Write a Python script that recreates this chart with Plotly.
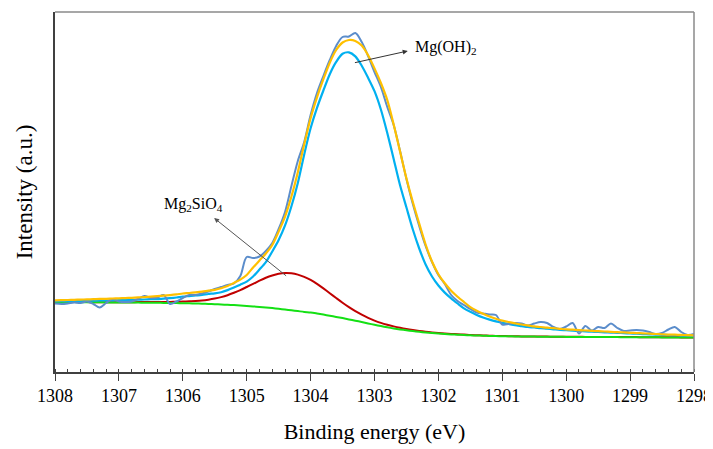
import plotly.graph_objects as go

energy = [1308.0, 1307.9, 1307.8, 1307.7, 1307.6, 1307.5, 1307.4, 1307.3, 1307.2, 1307.1,
          1307.0, 1306.9, 1306.8, 1306.7, 1306.6, 1306.5, 1306.4, 1306.3, 1306.2, 1306.1,
          1306.0, 1305.9, 1305.8, 1305.7, 1305.6, 1305.5, 1305.4, 1305.3, 1305.2, 1305.1,
          1305.0, 1304.9, 1304.8, 1304.7, 1304.6, 1304.5, 1304.4, 1304.3, 1304.2, 1304.1,
          1304.0, 1303.9, 1303.8, 1303.7, 1303.6, 1303.5, 1303.4, 1303.3, 1303.2, 1303.1,
          1303.0, 1302.9, 1302.8, 1302.7, 1302.6, 1302.5, 1302.4, 1302.3, 1302.2, 1302.1,
          1302.0, 1301.9, 1301.8, 1301.7, 1301.6, 1301.5, 1301.4, 1301.3, 1301.2, 1301.1,
          1301.0, 1300.9, 1300.8, 1300.7, 1300.6, 1300.5, 1300.4, 1300.3, 1300.2, 1300.1,
          1300.0, 1299.9, 1299.8, 1299.7, 1299.6, 1299.5, 1299.4, 1299.3, 1299.2, 1299.1,
          1299.0, 1298.9, 1298.8, 1298.7, 1298.6, 1298.5, 1298.4, 1298.3, 1298.2, 1298.1,
          1298.0]

raw = [68.5, 68.0, 68.5, 69.5, 69.0, 70.5, 68.0, 64.5, 69.0, 73.0,
       70.5, 70.0, 70.5, 73.0, 76.0, 74.0, 74.5, 77.0, 68.0, 70.5,
       74.0, 77.0, 77.0, 78.5, 80.5, 83.0, 85.0, 87.0, 88.5, 96.0,
       115.0, 114.0, 115.5, 121.0, 129.0, 143.0, 160.0, 186.0, 211.0, 230.0,
       257.0, 279.0, 296.0, 312.0, 326.0, 335.0, 335.5, 339.0, 330.0, 316.0,
       300.0, 285.0, 265.0, 247.0, 221.0, 193.0, 168.0, 146.0, 126.0, 110.0,
       97.0, 88.0, 77.0, 71.0, 67.0, 63.0, 59.5, 58.5, 57.5, 57.0,
       47.5, 48.0, 49.0, 48.5, 46.5, 48.5, 50.0, 49.0, 45.0, 43.0,
       45.5, 49.0, 38.5, 46.0, 41.5, 45.0, 44.0, 48.5, 44.0, 41.0,
       41.5, 42.0, 41.5, 40.0, 38.0, 39.0, 42.5, 45.0, 40.0, 37.0,
       38.0]

envelope = [71.7, 71.9, 72.0, 72.2, 72.4, 72.6, 72.8, 73.1, 73.2, 73.5,
            73.7, 73.9, 74.2, 74.6, 74.9, 75.3, 75.8, 76.3, 76.9, 77.6,
            78.5, 79.0, 79.6, 80.3, 81.3, 82.2, 83.7, 85.9, 89.1, 92.4,
            97.0, 104.5, 111.5, 118.5, 127.0, 140.4, 155.4, 175.5, 199.8, 227.8,
            253.8, 274.6, 292.8, 309.3, 322.0, 329.5, 332.0, 331.0, 326.4, 316.7,
            303.6, 289.0, 272.0, 247.6, 220.4, 193.6, 170.0, 148.4, 127.5, 110.5,
            97.8, 88.7, 81.3, 75.3, 70.0, 64.9, 61.3, 58.2, 55.5, 53.3,
            51.4, 50.0, 48.7, 47.5, 46.6, 45.6, 45.0, 44.3, 43.8, 43.2,
            42.6, 42.3, 41.9, 41.5, 41.1, 40.8, 40.5, 40.1, 39.8, 39.6,
            39.2, 38.9, 38.7, 38.3, 38.0, 37.7, 37.4, 37.3, 37.1, 36.8,
            36.7]

mg_oh2 = [70.8, 70.9, 70.9, 71.0, 71.1, 71.2, 71.3, 71.5, 71.5, 71.7,
          71.8, 71.9, 72.1, 72.4, 72.5, 72.8, 72.9, 73.4, 73.8, 74.5,
          75.5, 75.9, 76.5, 77.1, 78.0, 78.7, 79.8, 81.9, 84.5, 87.3,
          90.4, 95.5, 102.5, 109.9, 120.5, 132.0, 146.6, 165.8, 189.1, 217.6,
          243.7, 264.1, 281.5, 297.8, 310.1, 318.2, 319.6, 315.6, 306.3, 294.2,
          280.8, 262.5, 239.0, 213.1, 186.8, 164.5, 142.5, 123.5, 107.5, 95.5,
          86.5, 79.4, 73.6, 68.5, 63.7, 60.2, 57.1, 54.5, 52.4, 50.6,
          49.2, 48.0, 46.8, 45.9, 45.0, 44.5, 43.8, 43.3, 42.7, 42.1,
          41.8, 41.4, 41.0, 40.6, 40.3, 40.1, 39.7, 39.4, 39.2, 38.8,
          38.5, 38.3, 37.9, 37.6, 37.4, 37.1, 37.0, 36.9, 36.6, 36.5,
          36.4]

mg2sio4 = [70.1, 70.1, 70.0, 70.0, 69.9, 69.9, 69.8, 69.8, 69.7, 69.7,
           69.7, 69.7, 69.8, 69.9, 69.9, 70.0, 70.0, 70.0, 70.1, 70.2,
           70.4, 70.7, 71.0, 71.5, 72.3, 73.4, 74.9, 76.8, 79.2, 81.9,
           85.0, 88.1, 91.3, 94.2, 96.5, 98.2, 99.0, 98.7, 97.4, 95.1,
           92.1, 88.2, 83.6, 78.8, 74.0, 69.3, 64.9, 60.9, 57.4, 54.2,
           51.4, 49.1, 47.2, 45.6, 44.2, 43.0, 42.0, 41.1, 40.3, 39.6,
           39.0, 38.5, 38.1, 37.7, 37.4, 37.0, 36.8, 36.6, 36.3, 36.1,
           36.0, 35.8, 35.7, 35.6, 35.5, 35.5, 35.4, 35.4, 35.3, 35.3,
           35.2, 35.2, 35.2, 35.1, 35.1, 35.1, 35.0, 35.0, 35.0, 34.9,
           34.9, 34.9, 34.8, 34.8, 34.8, 34.7, 34.7, 34.7, 34.6, 34.6,
           34.6]

background = [70.0, 70.0, 69.9, 69.9, 69.8, 69.8, 69.7, 69.7, 69.6, 69.6,
              69.5, 69.5, 69.4, 69.4, 69.3, 69.3, 69.2, 69.1, 69.0, 68.9,
              68.8, 68.7, 68.5, 68.3, 68.1, 67.8, 67.5, 67.2, 66.9, 66.5,
              66.1, 65.6, 65.1, 64.5, 63.9, 63.2, 62.5, 61.7, 60.9, 60.1,
              59.5, 58.5, 57.4, 56.3, 55.1, 53.9, 52.6, 51.3, 50.0, 48.6,
              47.2, 45.9, 44.7, 43.6, 42.6, 41.7, 40.9, 40.2, 39.5, 38.9,
              38.4, 38.0, 37.6, 37.3, 37.0, 36.7, 36.5, 36.3, 36.1, 35.9,
              35.8, 35.7, 35.6, 35.5, 35.4, 35.4, 35.3, 35.3, 35.2, 35.2,
              35.1, 35.1, 35.1, 35.0, 35.0, 35.0, 34.9, 34.9, 34.9, 34.8,
              34.8, 34.8, 34.7, 34.7, 34.7, 34.6, 34.6, 34.6, 34.5, 34.5,
              34.5]

x_ticks = [1308, 1307, 1306, 1305, 1304, 1303, 1302, 1301, 1300, 1299, 1298]
x_tick_labels = ["1308", "1307", "1306", "1305", "1304", "1303", "1302", "1301", "1300", "1299", "1298"]

SERIF = "Liberation Serif"
AXIS = "#404040"

fig = go.Figure()
fig.add_trace(go.Scatter(x=energy, y=mg2sio4, mode="lines", name="Mg2SiO4",
                         line=dict(color="#C00000", width=2, shape="spline", smoothing=0.8)))
fig.add_trace(go.Scatter(x=energy, y=background, mode="lines", name="Background",
                         line=dict(color="#14E014", width=2, shape="spline", smoothing=0.8)))
fig.add_trace(go.Scatter(x=energy, y=mg_oh2, mode="lines", name="Mg(OH)2",
                         line=dict(color="#00B0F0", width=2.2, shape="spline", smoothing=0.8)))
fig.add_trace(go.Scatter(x=energy, y=raw, mode="lines", name="Raw",
                         line=dict(color="#5B8DCB", width=2, shape="spline", smoothing=0.9)))
fig.add_trace(go.Scatter(x=energy, y=envelope, mode="lines", name="Envelope",
                         line=dict(color="#FFC000", width=2.2, shape="spline", smoothing=0.8)))

annotations = [
    dict(x=1302.40, y=325, text="Mg(OH)<sub>2</sub>", showarrow=False,
         xanchor="left", yanchor="middle", font=dict(family=SERIF, size=16, color="black")),
    dict(x=1305.84, y=168, text="Mg<sub>2</sub>SiO<sub>4</sub>", showarrow=False,
         xanchor="center", yanchor="middle", font=dict(family=SERIF, size=16, color="black")),
    dict(x=1302.48, y=321, ax=1303.33, ay=309, axref="x", ayref="y", text="",
         showarrow=True, arrowhead=2, arrowsize=1, arrowwidth=1, arrowcolor="#333333"),
    dict(x=1305.51, y=154, ax=1304.36, ay=95, axref="x", ayref="y", text="",
         showarrow=True, arrowhead=2, arrowsize=1, arrowwidth=1, arrowcolor="#555555"),
]

shapes = [
    dict(type="line", xref="paper", yref="paper", x0=0, x1=1, y0=1, y1=1,
         line=dict(color="#8A8A8A", width=1.5)),
    dict(type="line", xref="paper", yref="paper", x0=1, x1=1, y0=0, y1=1,
         line=dict(color="#8A8A8A", width=1.5)),
]

# the page body adds an 8px offset, so the figure is sized/margined to compensate
fig.update_layout(
    width=705, height=441,
    margin=dict(l=47, r=19, t=4, b=77, autoexpand=False),
    plot_bgcolor="white", paper_bgcolor="white",
    showlegend=False,
    font=dict(family=SERIF, color="black"),
    annotations=annotations,
    shapes=shapes,
    xaxis=dict(
        range=[1308, 1298], tickmode="array", tickvals=x_ticks, ticktext=x_tick_labels,
        ticks="outside", ticklen=7, tickwidth=1, tickcolor=AXIS,
        showline=True, linecolor=AXIS, linewidth=1.5,
        showgrid=False, zeroline=False, automargin=False,
        tickfont=dict(family=SERIF, size=18, color="black"),
        minor=dict(ticks="inside", ticklen=3, dtick=0.2, tick0=1298, tickcolor=AXIS, showgrid=False),
        title=dict(text="Binding energy (eV)", font=dict(family=SERIF, size=22, color="black"), standoff=18),
    ),
    yaxis=dict(
        range=[0, 360], showticklabels=False, ticks="",
        showline=True, linecolor=AXIS, linewidth=1.5,
        showgrid=False, zeroline=False, automargin=False,
        title=dict(text="Intensity (a.u.)", font=dict(family=SERIF, size=23, color="black"), standoff=14),
    ),
)

fig.write_html("out.html")
